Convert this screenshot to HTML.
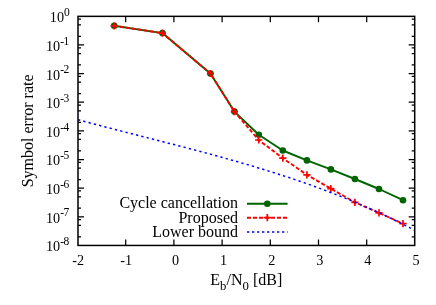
<!DOCTYPE html>
<html><head><meta charset="utf-8"><style>
html,body{margin:0;padding:0;background:#fff;}
svg{display:block;will-change:transform;font-family:"Liberation Serif",serif;fill:#000;}
.t{font-size:14.2px} .l{font-size:16px}
</style></head><body>
<svg width="436" height="305" viewBox="0 0 436 305">
<rect width="436" height="305" fill="#fff"/>
<path d="M78.0,19.12h3M414.7,19.12h-3M78.0,24.97h3M414.7,24.97h-3M78.0,36.36h3M414.7,36.36h-3M78.0,44.98h6M414.7,44.98h-6M78.0,47.76h3M414.7,47.76h-3M78.0,53.60h3M414.7,53.60h-3M78.0,64.99h3M414.7,64.99h-3M78.0,73.61h6M414.7,73.61h-6M78.0,76.39h3M414.7,76.39h-3M78.0,82.23h3M414.7,82.23h-3M78.0,93.62h3M414.7,93.62h-3M78.0,102.24h6M414.7,102.24h-6M78.0,105.02h3M414.7,105.02h-3M78.0,110.86h3M414.7,110.86h-3M78.0,122.26h3M414.7,122.26h-3M78.0,130.88h6M414.7,130.88h-6M78.0,133.65h3M414.7,133.65h-3M78.0,139.49h3M414.7,139.49h-3M78.0,150.89h3M414.7,150.89h-3M78.0,159.51h6M414.7,159.51h-6M78.0,162.28h3M414.7,162.28h-3M78.0,168.13h3M414.7,168.13h-3M78.0,179.52h3M414.7,179.52h-3M78.0,188.14h6M414.7,188.14h-6M78.0,190.91h3M414.7,190.91h-3M78.0,196.76h3M414.7,196.76h-3M78.0,208.15h3M414.7,208.15h-3M78.0,216.77h6M414.7,216.77h-6M78.0,219.54h3M414.7,219.54h-3M78.0,225.39h3M414.7,225.39h-3M78.0,236.78h3M414.7,236.78h-3M125.70,245.4v-6M125.70,16.35v6M173.90,245.4v-6M173.90,16.35v6M222.10,245.4v-6M222.10,16.35v6M270.30,245.4v-6M270.30,16.35v6M318.50,245.4v-6M318.50,16.35v6M366.70,245.4v-6M366.70,16.35v6" stroke="#000" stroke-width="1.25" fill="none"/>
<polyline points="114.2,25.8 162.4,33.1 210.4,73.5 234.4,111.6 258.8,134.8 282.8,150.5 306.9,160.4 330.9,169.4 354.9,179.0 379.0,189.0 403.0,200.2" fill="none" stroke="#006400" stroke-width="1.9" stroke-linejoin="round"/>
<circle cx="114.2" cy="25.8" r="3.3" fill="#006400"/>
<circle cx="162.4" cy="33.1" r="3.3" fill="#006400"/>
<circle cx="210.4" cy="73.5" r="3.3" fill="#006400"/>
<circle cx="234.4" cy="111.6" r="3.3" fill="#006400"/>
<circle cx="258.8" cy="134.8" r="3.3" fill="#006400"/>
<circle cx="282.8" cy="150.5" r="3.3" fill="#006400"/>
<circle cx="306.9" cy="160.4" r="3.3" fill="#006400"/>
<circle cx="330.9" cy="169.4" r="3.3" fill="#006400"/>
<circle cx="354.9" cy="179.0" r="3.3" fill="#006400"/>
<circle cx="379.0" cy="189.0" r="3.3" fill="#006400"/>
<circle cx="403.0" cy="200.2" r="3.3" fill="#006400"/>
<polyline points="114.2,25.8 162.4,33.1 210.4,73.5 234.4,111.6 258.7,140.0 282.8,158.2 306.9,174.8 330.8,188.6 354.9,202.3 379.0,212.9 403.0,223.6" fill="none" stroke="#ff0000" stroke-width="1.9" stroke-dasharray="4 2"/>
<path d="M110.6,25.8h7.2M114.2,22.2v7.2M158.8,33.1h7.2M162.4,29.5v7.2M206.8,73.5h7.2M210.4,69.9v7.2M230.8,111.6h7.2M234.4,108.0v7.2M255.1,140.0h7.2M258.7,136.4v7.2M279.2,158.2h7.2M282.8,154.6v7.2M303.3,174.8h7.2M306.9,171.2v7.2M327.2,188.6h7.2M330.8,185.0v7.2M351.3,202.3h7.2M354.9,198.7v7.2M375.4,212.9h7.2M379.0,209.3v7.2M399.4,223.6h7.2M403.0,220.0v7.2" stroke="#ff0000" stroke-width="1.7" fill="none"/>
<polyline points="78.0,119.7 83.7,121.2 89.4,122.8 95.1,124.3 100.8,125.8 106.5,127.3 112.2,128.7 117.9,130.2 123.7,131.7 129.4,133.1 135.1,134.6 140.8,136.1 146.5,137.5 152.2,139.0 157.9,140.4 163.6,141.9 169.3,143.4 175.0,144.8 180.7,146.3 186.4,147.8 192.1,149.3 197.8,150.8 203.5,152.3 209.3,153.9 215.0,155.4 220.7,157.0 226.4,158.6 232.1,160.2 237.8,161.8 243.5,163.5 249.2,165.1 254.9,166.8 260.6,168.6 266.3,170.3 272.0,172.1 277.7,173.9 283.4,175.8 289.2,177.6 294.9,179.6 300.6,181.5 306.3,183.5 312.0,185.5 317.7,187.6 323.4,189.7 329.1,191.9 334.8,194.1 340.5,196.3 346.2,198.6 351.9,200.9 357.6,203.3 363.3,205.8 369.0,208.3 374.8,210.8 380.5,213.4 386.2,216.1 391.9,218.8 397.6,221.6 403.3,224.4 409.0,227.3 414.7,230.3" fill="none" stroke="#0000ff" stroke-width="1.5" stroke-dasharray="2.3 3.15"/>
<rect x="78.0" y="16.35" width="336.7" height="229.1" fill="none" stroke="#000" stroke-width="1.5"/>
<line x1="247" x2="287.6" y1="203.7" y2="203.7" stroke="#006400" stroke-width="1.9"/><circle cx="267.3" cy="203.7" r="3.3" fill="#006400"/>
<line x1="247" x2="287.6" y1="217.7" y2="217.7" stroke="#ff0000" stroke-width="1.9" stroke-dasharray="4 2"/><path d="M263.7,217.7h7.2M267.3,214.1v7.2" stroke="#ff0000" stroke-width="1.7"/>
<line x1="247" x2="287.6" y1="232.1" y2="232.1" stroke="#0000ff" stroke-width="1.5" stroke-dasharray="2.3 2.7"/>
<g class="l" text-anchor="end"><text x="238" y="208.3">Cycle cancellation</text><text x="238" y="222.7">Proposed</text><text x="238" y="237.1">Lower bound</text></g>
<text class="t" text-anchor="end" x="69.8" y="22.2">10<tspan dy="-6.3" font-size="11.5px">0</tspan></text>
<text class="t" text-anchor="end" x="69.2" y="50.9">10<tspan dy="-6.3" font-size="11.5px">-</tspan><tspan dx="-0.6" font-size="11.5px">1</tspan></text>
<text class="t" text-anchor="end" x="69.2" y="79.5">10<tspan dy="-6.3" font-size="11.5px">-</tspan><tspan dx="-0.6" font-size="11.5px">2</tspan></text>
<text class="t" text-anchor="end" x="69.2" y="108.1">10<tspan dy="-6.3" font-size="11.5px">-</tspan><tspan dx="-0.6" font-size="11.5px">3</tspan></text>
<text class="t" text-anchor="end" x="69.2" y="136.8">10<tspan dy="-6.3" font-size="11.5px">-</tspan><tspan dx="-0.6" font-size="11.5px">4</tspan></text>
<text class="t" text-anchor="end" x="69.2" y="165.4">10<tspan dy="-6.3" font-size="11.5px">-</tspan><tspan dx="-0.6" font-size="11.5px">5</tspan></text>
<text class="t" text-anchor="end" x="69.2" y="194.0">10<tspan dy="-6.3" font-size="11.5px">-</tspan><tspan dx="-0.6" font-size="11.5px">6</tspan></text>
<text class="t" text-anchor="end" x="69.2" y="222.7">10<tspan dy="-6.3" font-size="11.5px">-</tspan><tspan dx="-0.6" font-size="11.5px">7</tspan></text>
<text class="t" text-anchor="end" x="69.2" y="251.3">10<tspan dy="-6.3" font-size="11.5px">-</tspan><tspan dx="-0.6" font-size="11.5px">8</tspan></text>
<text class="t" text-anchor="middle" x="78.1" y="264.6">-2</text>
<text class="t" text-anchor="middle" x="126.2" y="264.6">-1</text>
<text class="t" text-anchor="middle" x="175.5" y="264.6">0</text>
<text class="t" text-anchor="middle" x="223.6" y="264.6">1</text>
<text class="t" text-anchor="middle" x="271.7" y="264.6">2</text>
<text class="t" text-anchor="middle" x="319.8" y="264.6">3</text>
<text class="t" text-anchor="middle" x="367.9" y="264.6">4</text>
<text class="t" text-anchor="middle" x="416.0" y="264.6">5</text>
<text class="l" x="210.3" y="285.2">E<tspan dy="4.8" font-size="12.8px">b</tspan><tspan dy="-4.8">/N</tspan><tspan dy="4.8" font-size="12.8px">0</tspan><tspan dy="-4.8"> [dB]</tspan></text>
<text class="l" text-anchor="middle" transform="translate(33.3,130.9) rotate(-90)">Symbol error rate</text>
</svg></body></html>
